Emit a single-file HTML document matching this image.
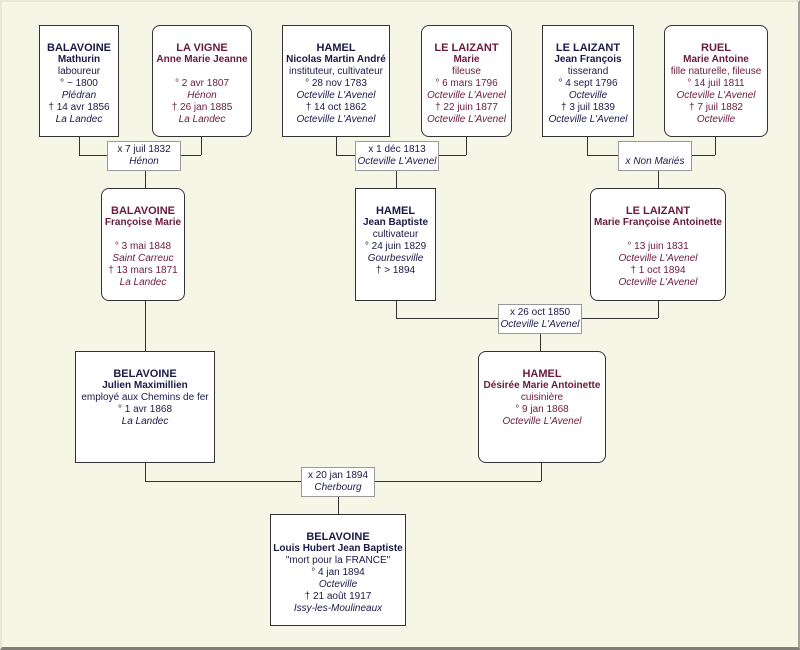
<!DOCTYPE html>
<html><head><meta charset="utf-8"><style>
body{margin:0;width:800px;height:650px;overflow:hidden;background:#f6f6e6;font-family:"Liberation Sans",sans-serif}
#f{position:absolute;left:0;top:0;border-top:2px solid #e8e8d8;border-left:2px solid #e8e8d8;border-right:2px solid #a0a098;border-bottom:3px solid #808078;box-sizing:border-box;width:800px;height:650px}
.b{position:absolute;background:#fff;border:1px solid #333;box-sizing:border-box;text-align:center;font-size:10px;line-height:12px;padding-top:16px;white-space:nowrap;display:flex;flex-direction:column;align-items:center}
.r{border-radius:8px}
.m{color:#1a1a48}.w{color:#6a1a3c}
.t{font-weight:bold;font-size:11px}
.n{font-weight:bold}
i{display:block}
.x{position:absolute;background:#fff;border:1px solid #999;box-sizing:border-box;text-align:center;font-size:10px;line-height:12px;padding-top:2px;color:#1a1a48;white-space:nowrap}
.h{position:absolute;height:1px;background:#333}
.v{position:absolute;width:1px;background:#333}
</style></head><body><div id="f"></div>
<div class="v" style="left:79px;top:136px;height:19px"></div><div class="h" style="left:79px;top:155px;width:122px"></div><div class="v" style="left:201px;top:136px;height:19px"></div><div class="v" style="left:145px;top:170px;height:18px"></div>
<div class="v" style="left:336px;top:136px;height:19px"></div><div class="h" style="left:336px;top:155px;width:130px"></div><div class="v" style="left:466px;top:136px;height:19px"></div><div class="v" style="left:396px;top:170px;height:18px"></div>
<div class="v" style="left:587px;top:136px;height:19px"></div><div class="h" style="left:587px;top:155px;width:128px"></div><div class="v" style="left:715px;top:136px;height:19px"></div><div class="v" style="left:658px;top:170px;height:18px"></div>
<div class="v" style="left:145px;top:300px;height:51px"></div>
<div class="v" style="left:396px;top:300px;height:18px"></div><div class="h" style="left:396px;top:318px;width:262px"></div><div class="v" style="left:658px;top:300px;height:18px"></div><div class="v" style="left:540px;top:333px;height:18px"></div>
<div class="v" style="left:145px;top:462px;height:19px"></div><div class="h" style="left:145px;top:481px;width:396px"></div><div class="v" style="left:541px;top:462px;height:19px"></div><div class="v" style="left:338px;top:496px;height:18px"></div>
<div class="b m" style="left:39px;top:25px;width:80px;height:112px"><div class="t">BALAVOINE</div><div class="n">Mathurin</div><div>laboureur</div><div>° ~ 1800</div><i>Plédran</i><div>† 14 avr 1856</div><i>La Landec</i></div>
<div class="b w r" style="left:152px;top:25px;width:100px;height:112px"><div class="t">LA VIGNE</div><div class="n">Anne Marie Jeanne</div><div>&nbsp;</div><div>° 2 avr 1807</div><i>Hénon</i><div>† 26 jan 1885</div><i>La Landec</i></div>
<div class="b m" style="left:282px;top:25px;width:108px;height:112px"><div class="t">HAMEL</div><div class="n">Nicolas Martin André</div><div>instituteur, cultivateur</div><div>° 28 nov 1783</div><i>Octeville L'Avenel</i><div>† 14 oct 1862</div><i>Octeville L'Avenel</i></div>
<div class="b w r" style="left:421px;top:25px;width:91px;height:112px"><div class="t">LE LAIZANT</div><div class="n">Marie</div><div>fileuse</div><div>° 6 mars 1796</div><i>Octeville L'Avenel</i><div>† 22 juin 1877</div><i>Octeville L'Avenel</i></div>
<div class="b m" style="left:542px;top:25px;width:92px;height:112px"><div class="t">LE LAIZANT</div><div class="n">Jean François</div><div>tisserand</div><div>° 4 sept 1796</div><i>Octeville</i><div>† 3 juil 1839</div><i>Octeville L'Avenel</i></div>
<div class="b w r" style="left:664px;top:25px;width:104px;height:112px"><div class="t">RUEL</div><div class="n">Marie Antoine</div><div>fille naturelle, fileuse</div><div>° 14 juil 1811</div><i>Octeville L'Avenel</i><div>† 7 juil 1882</div><i>Octeville</i></div>
<div class="x" style="left:107px;top:141px;width:74px;height:30px">x 7 juil 1832<i>Hénon</i></div>
<div class="x" style="left:355px;top:141px;width:84px;height:30px">x 1 déc 1813<i>Octeville L'Avenel</i></div>
<div class="x" style="left:618px;top:141px;width:74px;height:30px"><br><i>x Non Mariés</i></div>
<div class="b w r" style="left:101px;top:188px;width:84px;height:113px"><div class="t">BALAVOINE</div><div class="n">Françoise Marie</div><div>&nbsp;</div><div>° 3 mai 1848</div><i>Saint Carreuc</i><div>† 13 mars 1871</div><i>La Landec</i></div>
<div class="b m" style="left:355px;top:188px;width:81px;height:113px"><div class="t">HAMEL</div><div class="n">Jean Baptiste</div><div>cultivateur</div><div>° 24 juin 1829</div><i>Gourbesville</i><div>† &gt; 1894</div></div>
<div class="b w r" style="left:590px;top:188px;width:136px;height:113px"><div class="t">LE LAIZANT</div><div class="n">Marie Françoise Antoinette</div><div>&nbsp;</div><div>° 13 juin 1831</div><i>Octeville L'Avenel</i><div>† 1 oct 1894</div><i>Octeville L'Avenel</i></div>
<div class="x" style="left:498px;top:304px;width:84px;height:30px">x 26 oct 1850<i>Octeville L'Avenel</i></div>
<div class="b m" style="left:75px;top:351px;width:140px;height:112px"><div class="t">BELAVOINE</div><div class="n">Julien Maximillien</div><div>employé aux Chemins de fer</div><div>° 1 avr 1868</div><i>La Landec</i></div>
<div class="b w r" style="left:478px;top:351px;width:128px;height:112px"><div class="t">HAMEL</div><div class="n">Désirée Marie Antoinette</div><div>cuisinière</div><div>° 9 jan 1868</div><i>Octeville L'Avenel</i></div>
<div class="x" style="left:301px;top:467px;width:74px;height:30px">x 20 jan 1894<i>Cherbourg</i></div>
<div class="b m" style="left:270px;top:514px;width:136px;height:112px"><div class="t">BELAVOINE</div><div class="n">Louis Hubert Jean Baptiste</div><div>"mort pour la FRANCE"</div><div>° 4 jan 1894</div><i>Octeville</i><div>† 21 août 1917</div><i>Issy-les-Moulineaux</i></div>
</body></html>
